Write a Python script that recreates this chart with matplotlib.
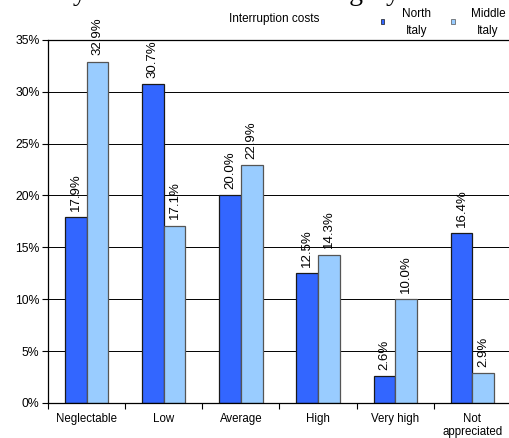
import numpy as np
import matplotlib.pyplot as plt
from matplotlib.ticker import FuncFormatter, MultipleLocator
from matplotlib.patches import Rectangle

plt.rcParams["font.family"] = ["Liberation Sans", "DejaVu Sans"]

categories = ["Neglectable", "Low", "Average", "High", "Very high", "Not\nappreciated"]
north = [17.9, 30.7, 20.0, 12.5, 2.6, 16.4]
middle = [32.9, 17.1, 22.9, 14.3, 10.0, 2.9]
series_names = ["North\nItaly", "Middle\nItaly"]
colors = ["#3366FF", "#99CCFF"]
edges = ["#1a1a1a", "#555555"]

fig = plt.figure(figsize=(5.10, 4.38), dpi=100)
ax = fig.add_axes([0.094, 0.080, 0.908, 0.829])

x = np.arange(len(categories))
w = 0.28
for vals, off, col, edge in [(north, -w / 2, colors[0], edges[0]),
                             (middle, w / 2, colors[1], edges[1])]:
    bars = ax.bar(x + off, vals, width=w, color=col, edgecolor=edge,
                  linewidth=0.9, zorder=2)
    for b, v in zip(bars, vals):
        ax.annotate(f"{v:.1f}%", (b.get_x() + b.get_width() / 2, v),
                    xytext=(0, 4.5), textcoords="offset points",
                    rotation=90, ha="center", va="bottom", fontsize=9.5)

ax.set_xlim(-0.5, len(categories) - 0.5)
ax.set_ylim(0, 35)
ax.yaxis.set_major_locator(MultipleLocator(5))
ax.yaxis.set_major_formatter(FuncFormatter(lambda v, p: f"{v:.0f}%"))
ax.grid(axis="y", color="black", linewidth=0.7, zorder=0)
ax.set_axisbelow(True)

ax.set_xticks(x)
ax.set_xticklabels(categories, fontsize=8.3, linespacing=1.15)
ax.tick_params(axis="x", length=0, pad=7)
ax.set_xticks(np.arange(-0.5, len(categories)), minor=True)
ax.tick_params(axis="x", which="minor", length=4, width=0.8)
ax.tick_params(axis="y", length=4, width=0.8, labelsize=8.8, pad=2)
for s in ax.spines.values():
    s.set_linewidth(0.9)

# title sits mostly above the canvas
fig.text(0.015, 1.0, "Survey results for the cost category", fontsize=20,
         family="Liberation Serif", ha="left", va="baseline")

# legend: caption on the left, small swatches with centred two-line names
fig.text(0.538, 0.956, "Interruption costs", fontsize=8.5, ha="center",
         va="center")
for col, edge, name, mx, tx in zip(colors, edges, series_names,
                                   [0.747, 0.885], [0.817, 0.957]):
    fig.add_artist(Rectangle((mx, 0.946), 0.0065, 0.0115, facecolor=col,
                             edgecolor=edge, linewidth=0.5,
                             transform=fig.transFigure))
    fig.text(tx, 0.948, name, fontsize=8.5, ha="center", va="center",
             multialignment="center", linespacing=1.55)

fig.savefig("out.png", dpi=100)
